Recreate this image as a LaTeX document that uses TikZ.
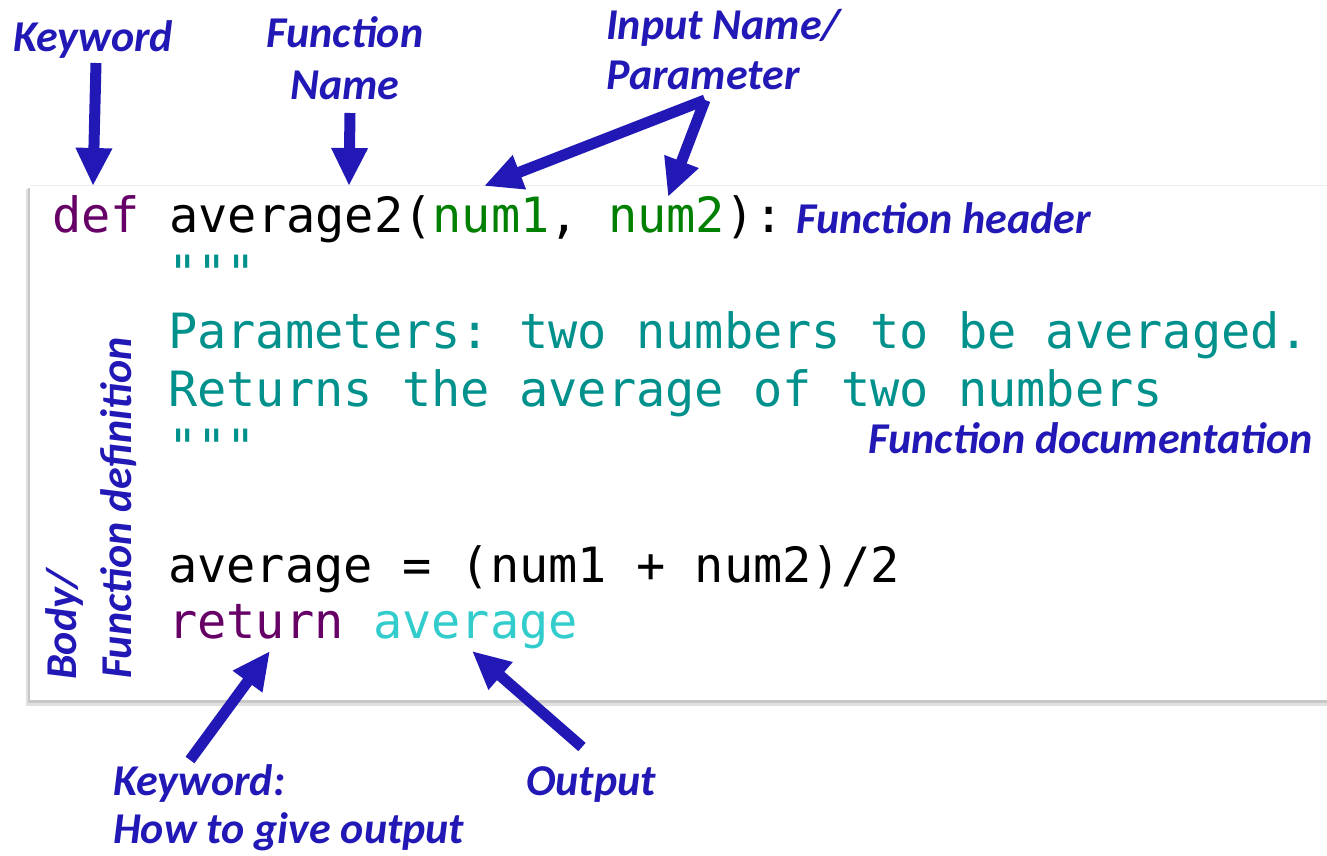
\documentclass[tikz,border=0pt]{standalone}
\usepackage{fontspec}
\usetikzlibrary{arrows.meta}
\newfontfamily\codefont{DejaVu Sans Mono}
\newfontfamily\labfont{Carlito}
\definecolor{lblue}{RGB}{33,24,182}
\definecolor{kwc}{RGB}{102,0,102}
\definecolor{grnc}{RGB}{0,128,0}
\definecolor{docc}{RGB}{0,145,140}
\definecolor{outc}{RGB}{51,204,204}
\frenchspacing
\begin{document}
\begin{tikzpicture}[x=1pt,y=-1pt,
  code/.style={inner sep=0pt,anchor=base west,font=\codefont\fontsize{48.6}{58}\selectfont},
  lab/.style={inner sep=0pt,text=lblue,font=\labfont\bfseries\itshape\fontsize{44}{52}\selectfont},
  callout/.style={draw=lblue,line width=11pt,-{Triangle[length=38pt,width=34pt]}}]
\useasboundingbox (0,0) rectangle (1327,856);
\fill[white] (0,0) rectangle (1327,856);
% code box with shadow
\fill[black!12] (26,189) rectangle (1340,706);
\fill[black!22] (28,188) rectangle (1340,703);
\fill[white] (30,185) rectangle (1340,700);
\draw[black!7,line width=1pt] (30,185) -- (1340,185);
% code lines
\node[code] (l1) at (52,232) {{\color{kwc}def} average2({\color{grnc}num1}, {\color{grnc}num2}):};
\node[code,text=docc] (l2) at (168,290) {"""};
\node[code,text=docc] (l3) at (168,348) {Parameters: two numbers to be averaged.};
\node[code,text=docc] (l4) at (168,406) {Returns the average of two numbers};
\node[code,text=docc] (l5) at (168,464) {"""};
\node[code] (l6) at (168,582) {average = (num1 + num2)/2};
\node[code] (l7) at (168,638) {{\color{kwc}return} {\color{outc}average}};
% labels
\node[lab,anchor=base] (kw) at (93,52) {Keyword};
\node[lab,anchor=base] (fn1) at (345,48) {Function};
\node[lab,anchor=base] (fn2) at (345,100) {Name};
\node[lab,anchor=base west] (in1) at (606,40) {Input Name/};
\node[lab,anchor=base west] (in2) at (606,90) {Parameter};
\node[lab,anchor=base west] (hdr) at (796,233) {Function header};
\node[lab,anchor=base east] (doc) at (1313,453) {Function documentation};
\node[lab,anchor=base west,rotate=90] (body1) at (76,680) {Body/};
\node[lab,anchor=base west,rotate=90] (body2) at (131,679) {Function definition};
\node[lab,anchor=base west] (rk1) at (113,795) {Keyword:};
\node[lab,anchor=base west] (rk2) at (113,843) {How to give output};
\node[lab,anchor=base] (outl) at (591,795) {Output};
% arrow end points
\coordinate (kwT) at (96,63);   \coordinate (kwH) at (93,186);
\coordinate (fnT) at (350,113); \coordinate (fnH) at (349,186);
\coordinate (inT) at (705,100); \coordinate (inH1) at (484,186); \coordinate (inH2) at (668,197);
\coordinate (rkT) at (190,760); \coordinate (rkH) at (270,651);
\coordinate (ouT) at (582,747); \coordinate (ouH) at (472,651);
\draw[callout] (kwT) -- (kwH);
\draw[callout] (fnT) -- (fnH);
\draw[callout] (inT) -- (inH1);
\draw[callout] (inT) -- (inH2);
\draw[callout] (rkT) -- (rkH);
\draw[callout] (ouT) -- (ouH);
\end{tikzpicture}
\end{document}
